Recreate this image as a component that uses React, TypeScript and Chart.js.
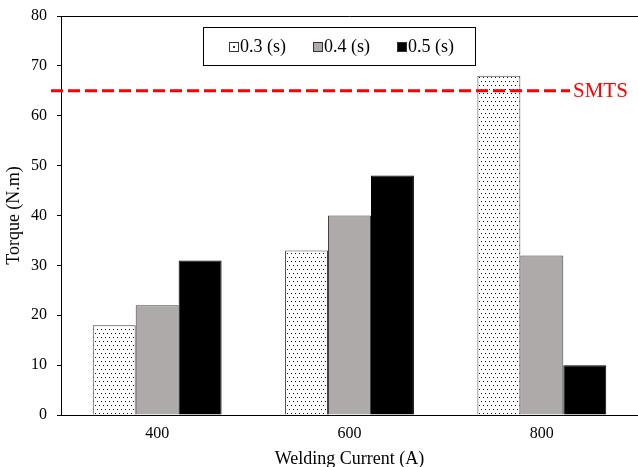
import React, { useEffect, useRef } from "react";
import { Chart, registerables } from "chart.js";

Chart.register(...registerables);

const categories = ["400", "600", "800"];
const seriesLabels = ["0.3 (s)", "0.4 (s)", "0.5 (s)"];
const values03 = [18, 33, 68];
const values04 = [22, 40, 32];
const values05 = [31, 48, 10];
const smtsValue = 65;
const smtsLabel = "SMTS";
const yMin = 0;
const yMax = 80;
const yStep = 10;
const xTitle = "Welding Current (A)";
const yTitle = "Torque (N.m)";

const FONT = "'Liberation Serif', 'Times New Roman', serif";
const GREY = "#aeaaaa";

function makeDotPattern(): CanvasPattern | string {
  const c = document.createElement("canvas");
  c.width = 4;
  c.height = 8;
  const g = c.getContext("2d");
  if (!g) return "#ffffff";
  g.fillStyle = "#ffffff";
  g.fillRect(0, 0, 4, 8);
  g.fillStyle = "#111111";
  g.fillRect(1, 1, 1, 1);
  g.fillRect(3, 5, 1, 1);
  const p = g.createPattern(c, "repeat");
  return p || "#ffffff";
}

const overlayPlugin = {
  id: "overlay",
  afterDatasetsDraw(chart: any) {
    const ctx = chart.ctx as CanvasRenderingContext2D;
    const area = chart.chartArea;
    const ys = chart.scales.y;
    ctx.save();
    // top border
    ctx.strokeStyle = "#000";
    ctx.lineWidth = 1;
    ctx.beginPath();
    ctx.moveTo(area.left, Math.round(area.top) + 0.5);
    ctx.lineTo(area.right, Math.round(area.top) + 0.5);
    ctx.stroke();

    // SMTS line
    const sy = ys.getPixelForValue(smtsValue);
    ctx.strokeStyle = "#ff0000";
    ctx.lineWidth = 3;
    ctx.setLineDash([12, 5]);
    ctx.beginPath();
    ctx.moveTo(area.left - 10, sy);
    ctx.lineTo(570, sy);
    ctx.stroke();
    ctx.setLineDash([]);
    ctx.fillStyle = "#ff0000";
    ctx.font = `21px ${FONT}`;
    ctx.textAlign = "left";
    ctx.textBaseline = "middle";
    ctx.fillText(smtsLabel, 573, sy + 1);

    // legend
    const bx = 203.5, by = 27.5, bw = 272, bh = 38;
    ctx.fillStyle = "#fff";
    ctx.fillRect(bx, by, bw, bh);
    ctx.strokeStyle = "#000";
    ctx.lineWidth = 1;
    ctx.strokeRect(bx, by, bw, bh);
    const cy = by + bh / 2;
    const fills = ["#ffffff", GREY, "#000000"];
    const starts = [229, 313, 397];
    ctx.font = `18px ${FONT}`;
    ctx.textBaseline = "middle";
    seriesLabels.forEach((lab, i) => {
      const mx = starts[i] + 0.5;
      const my = Math.round(cy - 5) + 0.5;
      ctx.fillStyle = fills[i];
      ctx.fillRect(mx, my, 9, 9);
      ctx.strokeStyle = "#333";
      ctx.strokeRect(mx, my, 9, 9);
      if (i === 0) {
        ctx.fillStyle = "#333";
        ctx.fillRect(mx + 3.5, my + 3.5, 2, 2);
      }
      ctx.fillStyle = "#000";
      ctx.fillText(lab, starts[i] + 11, cy + 1);
    });
    ctx.restore();
  },
};

export default function App() {
  const ref = useRef<HTMLCanvasElement | null>(null);

  useEffect(() => {
    if (!ref.current) return;
    document.body.style.margin = "0";
    const H = 476;
    const chart = new Chart(ref.current, {
      type: "bar",
      data: {
        labels: categories,
        datasets: [
          {
            label: seriesLabels[0],
            data: values03,
            backgroundColor: makeDotPattern() as any,
            borderColor: "#404040",
            borderWidth: 1,
          },
          {
            label: seriesLabels[1],
            data: values04,
            backgroundColor: GREY,
            borderColor: "#404040",
            borderWidth: 1,
          },
          {
            label: seriesLabels[2],
            data: values05,
            backgroundColor: "#000000",
            borderColor: "#000000",
            borderWidth: 1,
          },
        ],
      },
      options: {
        responsive: false,
        animation: false,
        maintainAspectRatio: false,
        layout: { padding: { top: 16, left: 0, right: 0, bottom: 0 } },
        datasets: { bar: { categoryPercentage: 0.67, barPercentage: 1 } },
        plugins: {
          legend: { display: false },
          tooltip: { enabled: false },
        },
        scales: {
          x: {
            grid: { display: false, drawTicks: false },
            border: { display: true, color: "#000", width: 1 },
            ticks: {
              color: "#000",
              font: { family: FONT, size: 16 },
              padding: 9,
            },
            title: {
              display: true,
              text: xTitle,
              color: "#000",
              font: { family: FONT, size: 18 },
              padding: { top: 6, bottom: 6 },
            },
            afterFit: (s: any) => {
              s.height = H - 415;
              s.paddingLeft = 0;
              s.paddingRight = 0;
            },
          },
          y: {
            min: yMin,
            max: yMax,
            grid: {
              display: true,
              drawOnChartArea: false,
              drawTicks: true,
              tickLength: 4,
              color: "#000",
            },
            border: { display: true, color: "#000", width: 1 },
            ticks: {
              stepSize: yStep,
              color: "#000",
              font: { family: FONT, size: 16 },
              padding: 10,
            },
            title: {
              display: true,
              text: yTitle,
              color: "#000",
              font: { family: FONT, size: 18 },
              padding: { top: 3, bottom: 3 },
            },
            afterFit: (s: any) => {
              s.width = 61;
              s.paddingTop = 0;
              s.paddingBottom = 0;
            },
          },
        },
      },
      plugins: [overlayPlugin],
    });
    return () => chart.destroy();
  }, []);

  return (
    <div
      style={{
        position: "fixed",
        left: 0,
        top: 0,
        width: 638,
        height: 467,
        overflow: "hidden",
        background: "#fff",
      }}
    >
      <canvas ref={ref} width={638} height={476} style={{ display: "block", width: 638, height: 476 }} />
    </div>
  );
}
